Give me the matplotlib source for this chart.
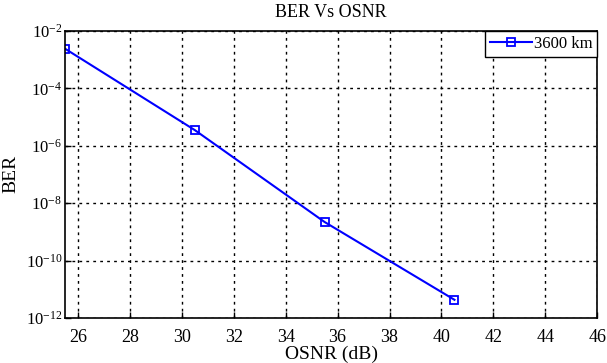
import matplotlib.pyplot as plt
from matplotlib.ticker import FixedLocator, NullLocator

plt.rcParams['font.family'] = ['Liberation Serif', 'DejaVu Serif']
plt.rcParams['mathtext.fontset'] = 'stix'

# BER measured against OSNR
osnr = [25.5, 30.5, 35.5, 40.5]
ber = [2.4e-3, 3.5e-6, 2.2e-9, 4.3e-12]
xticks = [26, 28, 30, 32, 34, 36, 38, 40, 42, 44, 46]
ypow = [-12, -10, -8, -6, -4, -2]

fig = plt.figure(figsize=(6.07, 3.63), dpi=100)
ax = fig.add_axes([0.107, 0.124, 0.877, 0.791])

ax.semilogy(osnr, ber, color='#0000ff', lw=1.5, marker='s', ms=6,
            mfc='none', mec='#0000ff', mew=1.3, label='3600 km')

ax.set_xlim(25.5, 46)
ax.set_ylim(1e-12, 1e-2)
ax.set_xticks(xticks)
ax.yaxis.set_major_locator(FixedLocator([10.0 ** p for p in ypow]))
ax.yaxis.set_minor_locator(NullLocator())
ax.set_yticklabels([r'$\mathregular{10^{%d}}$' % p for p in ypow])
ax.tick_params(axis='x', direction='in', length=4, labelsize=13, width=1, pad=8)
ax.tick_params(axis='y', direction='in', length=4, labelsize=12, width=1, pad=2)
ax.grid(True, which='major', color='black', linestyle=(0, (2, 3)), lw=1)
for s in ax.spines.values():
    s.set_linewidth(1.2)

ax.set_title('BER Vs OSNR', fontsize=13, pad=10)
ax.set_xlabel('OSNR (dB)', fontsize=14, labelpad=0)
ax.set_ylabel('BER', fontsize=14)
ax.yaxis.set_label_coords(-0.085, 0.5)

leg = ax.legend(loc='upper right', fontsize=12, fancybox=False,
                edgecolor='black', framealpha=1, borderaxespad=0,
                handlelength=2.5, borderpad=0.3, handletextpad=0.1)
leg.get_frame().set_linewidth(1)

fig.savefig('out.png', dpi=100)
